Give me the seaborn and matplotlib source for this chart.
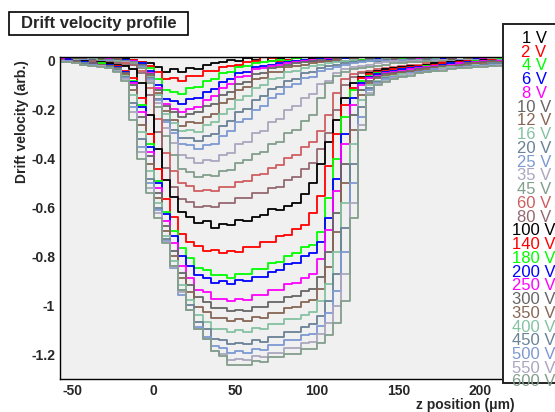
import matplotlib
matplotlib.use("Agg")
import matplotlib.pyplot as plt
from matplotlib.patches import Rectangle
from matplotlib.ticker import MultipleLocator, FuncFormatter
import numpy as np
import pandas as pd
import seaborn as sns

# bin centres of the z histograms (5 um bins from -60 to 220 um)
z_bins = np.arange(-57.5, 220.0, 5.0)

labels = ["1 V", "2 V", "4 V", "6 V", "8 V", "10 V", "12 V", "16 V", "20 V",
          "25 V", "35 V", "45 V", "60 V", "80 V", "100 V", "140 V", "180 V",
          "200 V", "250 V", "300 V", "350 V", "400 V", "450 V", "500 V",
          "550 V", "600 V"]

# ROOT-like line colours, one per bias voltage
colors = ["#000000", "#ff0000", "#00ff00", "#0000ff", "#ff00ff", "#666666",
          "#876656", "#85c2a3", "#698296", "#7d99d1", "#aba6bf", "#829e8c",
          "#cf5e61", "#946970",
          "#000000", "#ff0000", "#00ff00", "#0000ff", "#ff00ff", "#666666",
          "#876656", "#85c2a3", "#698296", "#7d99d1", "#aba6bf", "#829e8c"]

vel_1V = [0.01, 0.0, 0.005, 0.015, 0.0, 0.01, 0.005, 0.0, 0.01, 0.005,
          -0.005, -0.01, -0.025, -0.045, -0.035, -0.045, -0.03, -0.035, -0.015, -0.01,
          -0.005, 0.005, 0.0, 0.01, 0.005, 0.015, 0.0, 0.01, 0.005, 0.015,
          0.0, 0.01, 0.02, 0.005, 0.01, 0.0, 0.015, 0.005, 0.01, 0.0,
          0.01, 0.005, 0.0, 0.015, 0.005, 0.01, 0.0, 0.01, 0.005, 0.015,
          0.005, 0.0, 0.01, 0.005, 0.0, 0.005]
vel_2V = [0.0, 0.01, 0.005, 0.0, 0.01, 0.005, 0.0, 0.01, 0.0, 0.005,
          -0.005, -0.02, -0.045, -0.075, -0.07, -0.08, -0.06, -0.06, -0.04, -0.04,
          -0.025, -0.02, -0.015, -0.005, 0.0, 0.025, 0.01, 0.0, 0.005, 0.01,
          0.005, 0.0, 0.01, 0.005, 0.015, 0.0, 0.01, 0.005, 0.0, 0.01,
          0.005, 0.0, 0.01, 0.0, 0.005, 0.01, 0.005, 0.0, 0.01, 0.005,
          0.0, 0.01, 0.005, 0.0, 0.005, 0.0]
vel_4V = [0.005, 0.0, 0.01, 0.005, 0.0, 0.005, 0.01, 0.0, 0.005, 0.0,
          -0.01, -0.03, -0.075, -0.12, -0.125, -0.135, -0.11, -0.105, -0.08, -0.075,
          -0.05, -0.045, -0.025, -0.02, -0.01, -0.005, 0.0, 0.005, 0.0, 0.01,
          0.005, 0.0, 0.01, 0.0, 0.005, 0.01, 0.0, 0.005, 0.0, 0.01,
          0.0, 0.005, 0.01, 0.0, 0.005, 0.0, 0.01, 0.005, 0.0, 0.005,
          0.01, 0.0, 0.005, 0.0, 0.01, 0.005]
vel_6V = [0.0, 0.01, 0.0, 0.005, 0.01, 0.0, 0.005, 0.0, 0.005, 0.0,
          -0.01, -0.04, -0.10, -0.155, -0.165, -0.175, -0.155, -0.15, -0.125, -0.115,
          -0.085, -0.075, -0.05, -0.045, -0.025, -0.02, -0.015, -0.01, -0.005, 0.0,
          0.005, 0.0, 0.01, 0.005, 0.0, 0.01, 0.005, 0.0, 0.005, 0.01,
          0.0, 0.005, 0.0, 0.01, 0.005, 0.0, 0.005, 0.01, 0.0, 0.005,
          0.0, 0.01, 0.005, 0.0, 0.005, 0.0]
vel_8V = [0.01, 0.005, 0.0, 0.01, 0.005, 0.0, 0.01, 0.005, 0.0, 0.0,
          -0.015, -0.05, -0.11, -0.175, -0.195, -0.21, -0.195, -0.19, -0.16, -0.145,
          -0.11, -0.095, -0.065, -0.06, -0.035, -0.03, -0.02, -0.015, -0.01, -0.005,
          0.0, 0.005, 0.0, 0.01, 0.005, 0.0, 0.01, 0.0, 0.005, 0.0,
          0.01, 0.005, 0.0, 0.005, 0.01, 0.0, 0.005, 0.0, 0.01, 0.005,
          0.0, 0.005, 0.01, 0.0, 0.005, 0.0]
vel_10V = [0.005, 0.0, 0.01, 0.0, 0.005, 0.01, 0.0, 0.005, 0.0, -0.005,
           -0.015, -0.055, -0.12, -0.185, -0.21, -0.23, -0.215, -0.21, -0.185, -0.175,
           -0.14, -0.125, -0.095, -0.085, -0.055, -0.05, -0.03, -0.025, -0.015, -0.01,
           -0.005, 0.0, 0.005, 0.0, 0.01, 0.0, 0.005, 0.0, 0.01, 0.005,
           0.0, 0.005, 0.0, 0.01, 0.0, 0.005, 0.0, 0.005, 0.01, 0.0,
           0.005, 0.0, 0.005, 0.01, 0.0, 0.005]
vel_12V = [0.0, 0.005, 0.0, 0.01, 0.0, 0.005, 0.0, 0.01, 0.0, -0.005,
           -0.02, -0.06, -0.13, -0.205, -0.24, -0.265, -0.25, -0.255, -0.23, -0.215,
           -0.17, -0.155, -0.12, -0.105, -0.075, -0.07, -0.045, -0.045, -0.025, -0.02,
           -0.015, -0.01, -0.005, 0.0, 0.005, 0.0, 0.01, 0.0, 0.005, 0.0,
           0.005, 0.01, 0.0, 0.005, 0.0, 0.01, 0.005, 0.0, 0.005, 0.0,
           0.01, 0.0, 0.005, 0.0, 0.005, 0.01]
vel_16V = [0.005, 0.0, 0.005, 0.0, 0.01, 0.0, 0.005, 0.0, 0.0, -0.005,
           -0.02, -0.065, -0.14, -0.215, -0.255, -0.285, -0.28, -0.29, -0.26, -0.25,
           -0.215, -0.195, -0.16, -0.145, -0.11, -0.1, -0.075, -0.07, -0.045, -0.04,
           -0.03, -0.02, -0.015, -0.01, -0.005, 0.0, 0.005, 0.0, 0.005, 0.0,
           0.01, 0.0, 0.005, 0.0, 0.005, 0.0, 0.01, 0.005, 0.0, 0.005,
           0.0, 0.005, 0.0, 0.01, 0.0, 0.005]
vel_20V = [0.0, 0.005, 0.0, 0.005, 0.0, 0.0, 0.005, -0.005, 0.0, -0.005,
           -0.02, -0.07, -0.155, -0.24, -0.28, -0.315, -0.315, -0.325, -0.305, -0.3,
           -0.265, -0.245, -0.21, -0.195, -0.16, -0.145, -0.115, -0.105, -0.08, -0.075,
           -0.05, -0.045, -0.03, -0.02, -0.015, -0.01, -0.005, 0.0, 0.005, 0.0,
           0.005, 0.0, 0.0, 0.005, 0.0, 0.01, 0.0, 0.005, 0.0, 0.005,
           0.0, 0.0, 0.005, 0.0, 0.005, 0.0]
vel_25V = [0.005, 0.0, 0.0, 0.005, -0.005, 0.0, 0.0, -0.005, -0.005, -0.01,
           -0.025, -0.075, -0.16, -0.25, -0.295, -0.34, -0.345, -0.36, -0.345, -0.34,
           -0.305, -0.285, -0.25, -0.235, -0.2, -0.185, -0.15, -0.135, -0.105, -0.095,
           -0.07, -0.065, -0.04, -0.035, -0.025, -0.015, -0.01, -0.005, 0.0, 0.005,
           0.0, 0.0, 0.005, 0.0, -0.005, 0.0, 0.005, 0.0, 0.0, 0.005,
           0.0, 0.005, 0.0, 0.0, 0.005, 0.0]
vel_35V = [0.0, 0.005, -0.005, 0.0, 0.0, -0.005, -0.005, -0.01, -0.005, -0.01,
           -0.03, -0.08, -0.17, -0.275, -0.335, -0.385, -0.395, -0.415, -0.405, -0.41,
           -0.385, -0.375, -0.34, -0.33, -0.295, -0.285, -0.25, -0.235, -0.2, -0.185,
           -0.15, -0.135, -0.095, -0.08, -0.05, -0.035, -0.025, -0.02, -0.015, -0.01,
           -0.005, 0.0, -0.005, 0.0, 0.0, -0.005, 0.0, 0.005, 0.0, 0.0,
           0.005, 0.0, 0.0, -0.005, 0.0, 0.0]
vel_45V = [0.005, 0.0, 0.0, -0.005, 0.0, -0.005, -0.01, -0.005, -0.01, -0.01,
           -0.03, -0.09, -0.19, -0.305, -0.385, -0.44, -0.455, -0.475, -0.465, -0.47,
           -0.45, -0.445, -0.415, -0.405, -0.38, -0.37, -0.34, -0.33, -0.295, -0.28,
           -0.245, -0.22, -0.15, -0.09, -0.06, -0.045, -0.035, -0.03, -0.025, -0.02,
           -0.015, -0.01, -0.01, -0.005, -0.005, 0.0, -0.005, 0.0, 0.0, -0.005,
           0.0, 0.0, 0.005, 0.0, 0.0, 0.005]
vel_60V = [0.0, 0.005, -0.005, 0.0, -0.005, -0.005, -0.01, -0.01, -0.01, -0.015,
           -0.04, -0.11, -0.235, -0.375, -0.45, -0.5, -0.51, -0.53, -0.525, -0.53,
           -0.515, -0.515, -0.495, -0.49, -0.465, -0.46, -0.435, -0.425, -0.395, -0.385,
           -0.35, -0.33, -0.285, -0.22, -0.13, -0.075, -0.055, -0.045, -0.04, -0.035,
           -0.03, -0.025, -0.02, -0.015, -0.015, -0.01, -0.01, -0.005, -0.005, 0.0,
           -0.005, 0.0, 0.0, -0.005, 0.0, 0.0]
vel_80V = [0.005, 0.0, -0.005, -0.005, 0.0, -0.01, -0.005, -0.01, -0.015, -0.015,
           -0.05, -0.14, -0.29, -0.435, -0.515, -0.565, -0.575, -0.595, -0.59, -0.595,
           -0.58, -0.58, -0.56, -0.56, -0.54, -0.54, -0.52, -0.515, -0.485, -0.475,
           -0.44, -0.415, -0.36, -0.295, -0.20, -0.10, -0.065, -0.05, -0.045, -0.04,
           -0.035, -0.03, -0.025, -0.02, -0.02, -0.015, -0.01, -0.01, -0.005, -0.005,
           0.0, -0.005, 0.0, 0.0, -0.005, 0.0]
vel_100V = [0.005, 0.0, -0.005, 0.0, -0.01, -0.005, -0.01, -0.015, -0.02, -0.035,
            -0.09, -0.22, -0.36, -0.485, -0.555, -0.615, -0.635, -0.66, -0.655, -0.68,
            -0.665, -0.67, -0.65, -0.655, -0.635, -0.63, -0.605, -0.61, -0.59, -0.58,
            -0.545, -0.50, -0.42, -0.33, -0.24, -0.15, -0.09, -0.065, -0.05, -0.04,
            -0.035, -0.03, -0.025, -0.02, -0.02, -0.015, -0.01, -0.01, -0.005, 0.0,
            -0.005, 0.0, 0.005, 0.0, 0.0, 0.005]
vel_140V = [0.0, 0.005, 0.0, -0.005, -0.01, -0.01, -0.015, -0.02, -0.04, -0.07,
            -0.15, -0.30, -0.44, -0.565, -0.635, -0.705, -0.74, -0.755, -0.775, -0.77,
            -0.785, -0.775, -0.78, -0.76, -0.76, -0.74, -0.74, -0.715, -0.71, -0.685,
            -0.67, -0.62, -0.55, -0.43, -0.30, -0.18, -0.11, -0.07, -0.055, -0.045,
            -0.04, -0.035, -0.03, -0.025, -0.02, -0.02, -0.015, -0.01, -0.01, -0.005,
            0.0, -0.005, 0.0, 0.005, 0.0, 0.0]
vel_180V = [0.005, 0.0, -0.005, -0.005, -0.01, -0.01, -0.015, -0.025, -0.045, -0.08,
            -0.18, -0.34, -0.49, -0.615, -0.695, -0.765, -0.805, -0.845, -0.855, -0.875,
            -0.875, -0.885, -0.87, -0.87, -0.85, -0.85, -0.825, -0.82, -0.795, -0.785,
            -0.76, -0.75, -0.70, -0.56, -0.40, -0.23, -0.12, -0.08, -0.06, -0.05,
            -0.045, -0.04, -0.035, -0.03, -0.025, -0.02, -0.02, -0.015, -0.01, -0.01,
            -0.005, 0.0, -0.005, 0.0, 0.0, 0.005]
vel_200V = [0.0, 0.005, 0.0, -0.005, -0.01, -0.015, -0.015, -0.025, -0.045, -0.085,
            -0.19, -0.35, -0.50, -0.625, -0.715, -0.795, -0.835, -0.875, -0.885, -0.905,
            -0.9, -0.91, -0.895, -0.9, -0.88, -0.88, -0.86, -0.855, -0.83, -0.825,
            -0.795, -0.785, -0.74, -0.64, -0.48, -0.30, -0.15, -0.09, -0.065, -0.055,
            -0.045, -0.04, -0.035, -0.03, -0.025, -0.025, -0.02, -0.015, -0.01, -0.01,
            -0.005, -0.005, 0.0, 0.0, -0.005, 0.0]
vel_250V = [0.005, 0.0, -0.005, -0.01, -0.01, -0.015, -0.02, -0.03, -0.05, -0.09,
            -0.21, -0.37, -0.52, -0.655, -0.745, -0.835, -0.885, -0.935, -0.945, -0.97,
            -0.97, -0.98, -0.97, -0.975, -0.955, -0.955, -0.935, -0.935, -0.91, -0.905,
            -0.885, -0.87, -0.81, -0.69, -0.53, -0.34, -0.18, -0.10, -0.07, -0.06,
            -0.05, -0.045, -0.04, -0.035, -0.03, -0.025, -0.02, -0.02, -0.015, -0.01,
            -0.01, -0.005, 0.0, -0.005, 0.0, 0.0]
vel_300V = [0.0, -0.005, 0.0, -0.01, -0.01, -0.015, -0.02, -0.03, -0.05, -0.10,
            -0.23, -0.39, -0.54, -0.675, -0.775, -0.865, -0.915, -0.965, -0.985, -1.01,
            -1.01, -1.02, -1.015, -1.02, -1.005, -1.005, -0.985, -0.985, -0.965, -0.96,
            -0.94, -0.93, -0.88, -0.78, -0.62, -0.42, -0.22, -0.12, -0.08, -0.065,
            -0.055, -0.05, -0.045, -0.04, -0.035, -0.03, -0.025, -0.02, -0.02, -0.015,
            -0.01, -0.01, -0.005, 0.0, -0.005, 0.0]
vel_350V = [0.005, -0.005, -0.005, -0.01, -0.015, -0.015, -0.02, -0.03, -0.055, -0.12,
            -0.26, -0.42, -0.56, -0.695, -0.795, -0.885, -0.945, -1.005, -1.025, -1.05,
            -1.05, -1.06, -1.055, -1.06, -1.045, -1.05, -1.03, -1.03, -1.01, -1.005,
            -0.985, -0.975, -0.93, -0.84, -0.70, -0.50, -0.28, -0.14, -0.09, -0.07,
            -0.06, -0.055, -0.05, -0.045, -0.04, -0.035, -0.03, -0.025, -0.02, -0.02,
            -0.015, -0.01, -0.01, -0.005, -0.005, 0.0]
vel_400V = [0.0, -0.005, -0.01, -0.01, -0.015, -0.02, -0.025, -0.035, -0.06, -0.14,
            -0.29, -0.45, -0.58, -0.715, -0.815, -0.915, -0.975, -1.035, -1.065, -1.095,
            -1.095, -1.105, -1.1, -1.105, -1.09, -1.095, -1.075, -1.075, -1.055, -1.055,
            -1.035, -1.025, -0.98, -0.91, -0.78, -0.58, -0.34, -0.16, -0.10, -0.08,
            -0.065, -0.06, -0.055, -0.05, -0.045, -0.04, -0.035, -0.03, -0.025, -0.025,
            -0.02, -0.015, -0.015, -0.01, -0.01, -0.005]
vel_450V = [0.0, -0.005, -0.01, -0.01, -0.015, -0.02, -0.025, -0.035, -0.065, -0.17,
            -0.32, -0.48, -0.60, -0.725, -0.835, -0.935, -0.995, -1.065, -1.095, -1.135,
            -1.14, -1.155, -1.15, -1.155, -1.14, -1.145, -1.125, -1.125, -1.105, -1.105,
            -1.085, -1.075, -1.04, -0.98, -0.87, -0.68, -0.42, -0.19, -0.11, -0.085,
            -0.07, -0.065, -0.06, -0.05, -0.045, -0.04, -0.035, -0.035, -0.03, -0.025,
            -0.02, -0.02, -0.015, -0.01, -0.01, -0.005]
vel_500V = [-0.005, 0.0, -0.01, -0.015, -0.015, -0.02, -0.03, -0.04, -0.07, -0.19,
            -0.35, -0.50, -0.61, -0.735, -0.845, -0.955, -1.015, -1.085, -1.125, -1.165,
            -1.17, -1.19, -1.185, -1.19, -1.175, -1.18, -1.16, -1.16, -1.14, -1.14,
            -1.12, -1.115, -1.08, -1.03, -0.94, -0.78, -0.50, -0.23, -0.12, -0.09,
            -0.075, -0.065, -0.06, -0.05, -0.045, -0.04, -0.035, -0.035, -0.03, -0.025,
            -0.025, -0.02, -0.02, -0.015, -0.015, -0.01]
vel_550V = [0.0, -0.005, -0.01, -0.015, -0.02, -0.02, -0.03, -0.04, -0.075, -0.21,
            -0.37, -0.52, -0.62, -0.74, -0.84, -0.945, -1.015, -1.095, -1.135, -1.185,
            -1.195, -1.22, -1.215, -1.22, -1.205, -1.21, -1.19, -1.19, -1.17, -1.17,
            -1.15, -1.145, -1.115, -1.07, -1.0, -0.87, -0.58, -0.26, -0.13, -0.095,
            -0.08, -0.07, -0.06, -0.055, -0.05, -0.045, -0.04, -0.035, -0.03, -0.03,
            -0.025, -0.025, -0.02, -0.02, -0.015, -0.015]
vel_600V = [-0.005, -0.005, -0.01, -0.015, -0.02, -0.025, -0.03, -0.045, -0.08, -0.24,
            -0.40, -0.54, -0.64, -0.745, -0.835, -0.935, -1.015, -1.095, -1.135, -1.185,
            -1.205, -1.24, -1.24, -1.24, -1.225, -1.23, -1.21, -1.21, -1.195, -1.195,
            -1.175, -1.175, -1.15, -1.12, -1.07, -0.98, -0.64, -0.28, -0.14, -0.10,
            -0.085, -0.075, -0.065, -0.06, -0.05, -0.045, -0.04, -0.04, -0.035, -0.03,
            -0.03, -0.025, -0.025, -0.02, -0.02, -0.015]

profiles = [vel_1V, vel_2V, vel_4V, vel_6V, vel_8V, vel_10V, vel_12V, vel_16V,
            vel_20V, vel_25V, vel_35V, vel_45V, vel_60V, vel_80V, vel_100V,
            vel_140V, vel_180V, vel_200V, vel_250V, vel_300V, vel_350V,
            vel_400V, vel_450V, vel_500V, vel_550V, vel_600V]

df = pd.concat([pd.DataFrame({"z": z_bins, "v": p, "bias": lab})
                for lab, p in zip(labels, profiles)], ignore_index=True)

W, H = 555, 412
sns.set_style("white")
plt.rcParams["font.family"] = ["Liberation Sans", "DejaVu Sans"]
plt.rcParams["axes.unicode_minus"] = False

fig = plt.figure(figsize=(W / 100, H / 100), dpi=100)
fig.patch.set_facecolor("white")
ax = fig.add_axes([60 / W, 1 - 379 / H, 455 / W, 322 / H])
ax.set_facecolor("#f0f0f0")

sns.lineplot(data=df, x="z", y="v", hue="bias", hue_order=labels,
             palette=colors, estimator=None, drawstyle="steps-mid",
             linewidth=1.3, legend=False, ax=ax)

ax.set_xlim(-57.4, 221.4)
ax.set_ylim(-1.298, 0.016)
ax.xaxis.set_major_locator(MultipleLocator(50))
ax.xaxis.set_minor_locator(MultipleLocator(10))
ax.yaxis.set_major_locator(MultipleLocator(0.2))
ax.yaxis.set_minor_locator(MultipleLocator(0.05))
fmt = FuncFormatter(lambda v, pos: f"{round(v, 2) + 0.0:g}")
ax.xaxis.set_major_formatter(fmt)
ax.yaxis.set_major_formatter(fmt)
ax.tick_params(which="major", direction="in", length=8, width=1,
               labelsize=10, pad=3.5)
ax.tick_params(which="minor", direction="in", length=4, width=1)
for t in ax.get_xticklabels() + ax.get_yticklabels():
    t.set_fontweight("bold")
for s in ax.spines.values():
    s.set_color("black")
    s.set_linewidth(1)
ax.set_xlabel("")
ax.set_ylabel("")


def fx(px):
    return px / W


def fy(py):
    return 1 - py / H


fig.text(fx(22), fy(60), "Drift velocity (arb.)", rotation=90, ha="center",
         va="top", fontsize=10, fontweight="bold")
fig.text(fx(515), fy(398), "z position (\u03bcm)", ha="right", va="top",
         fontsize=10, fontweight="bold")

# title box
fig.add_artist(Rectangle((fx(9), fy(35)), fx(188) - fx(9), fy(12) - fy(35),
                         transform=fig.transFigure, facecolor="white",
                         edgecolor="black", linewidth=1.2, zorder=5))
fig.text(fx(98.5), fy(23.5), "Drift velocity profile", ha="center",
         va="center", fontsize=12, fontweight="bold", zorder=6)

# legend box (cut by the right edge of the canvas, as in the original)
fig.add_artist(Rectangle((fx(503), fy(383)), fx(575) - fx(503), fy(24) - fy(383),
                         transform=fig.transFigure, facecolor="white",
                         edgecolor="#222222", linewidth=1.4, zorder=5))
for k, (lab, col) in enumerate(zip(labels, colors)):
    fig.text(fx(534), fy(38.5 + k * 13.74), lab, color=col, ha="center",
             va="center", fontsize=12, zorder=6)

fig.savefig("out.png", dpi=100, facecolor="white")
